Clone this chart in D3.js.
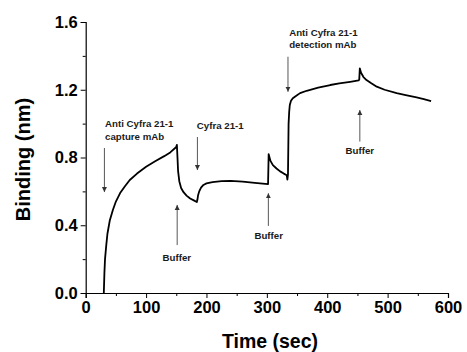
<!DOCTYPE html>
<html>
<head>
<meta charset="utf-8">
<script src="https://cdn.jsdelivr.net/npm/d3@7"></script>
<style>
  html, body { margin: 0; padding: 0; background: #fff; }
  svg { display: block; font-family: "Liberation Sans", Arial, sans-serif; }
</style>
</head>
<body>
<svg id="chart" width="467" height="352"></svg>
<script>
// ---- Data ----
const timeSec = [30, 31, 32, 34, 36, 40, 45, 50, 57, 65, 73, 85, 100, 115, 130, 140, 150, 151,
  152, 153, 155, 158, 162, 167, 173, 179, 184,
  185, 186, 188, 191, 195, 200, 210, 225, 240, 260, 280, 302,
  303, 306, 310, 316, 322, 328, 333, 334,
  335, 336, 337, 338, 340, 343, 347, 355, 366, 385, 405, 420, 438, 452, 453,
  454, 456, 460, 465, 473, 482, 495, 515, 530, 548, 560, 572];
const bindingNm = [0.00, 0.12, 0.20, 0.28, 0.35, 0.43, 0.49, 0.54, 0.59, 0.63, 0.667, 0.705, 0.745, 0.778, 0.808, 0.83, 0.862, 0.875,
  0.80, 0.72, 0.66, 0.62, 0.595, 0.575, 0.558, 0.547, 0.537,
  0.55, 0.575, 0.60, 0.622, 0.638, 0.647, 0.655, 0.66, 0.662, 0.657, 0.65, 0.643,
  0.82, 0.78, 0.755, 0.735, 0.718, 0.705, 0.695, 0.67,
  0.70, 1.00, 1.07, 1.11, 1.135, 1.15, 1.16, 1.18, 1.194, 1.212, 1.228, 1.237, 1.247, 1.255, 1.26,
  1.326, 1.30, 1.275, 1.257, 1.238, 1.218, 1.20, 1.18, 1.168, 1.155, 1.145, 1.133];

const xTicks = [0, 100, 200, 300, 400, 500, 600];
const xMinorTicks = [50, 150, 250, 350, 450, 550];
const yTicks = [0.0, 0.4, 0.8, 1.2, 1.6];
const yMinorTicks = [0.2, 0.6, 1.0, 1.4];
const xTitle = "Time (sec)";
const yTitle = "Binding (nm)";

// annotations: label lines, text position (time, binding), arrow x (time), arrow tail & head (binding)
const annoLabels = [["Anti Cyfra 21-1", "capture mAb"], ["Cyfra 21-1"], ["Buffer"], ["Buffer"],
  ["Anti Cyfra 21-1", "detection mAb"], ["Buffer"]];
const annoTextT = [32, 184, 151, 303, 337, 454];
const annoTextB = [0.998, 0.986, 0.207, 0.342, 1.539, 0.84];
const annoAnchor = ["start", "start", "middle", "middle", "start", "middle"];
const arrowT = [31, 185, 151.5, 302.5, 335, 454];
const arrowTail = [0.856, 0.921, 0.283, 0.396, 1.395, 0.894];
const arrowHead = [0.596, 0.726, 0.52, 0.589, 1.188, 1.08];

// ---- Chart ----
const svg = d3.select("#chart");
const x = d3.scaleLinear().domain([0, 600]).range([85.7, 448]);
const y = d3.scaleLinear().domain([0, 1.6]).range([293, 22]);

svg.append("defs").append("marker")
  .attr("id", "ah").attr("viewBox", "0 0 10 10")
  .attr("refX", 10).attr("refY", 5)
  .attr("markerWidth", 5).attr("markerHeight", 7).attr("markerUnits", "userSpaceOnUse")
  .attr("orient", "auto")
  .append("path").attr("d", "M0,0 L10,5 L0,10 Z").attr("fill", "#333");

// X axis
const gx = svg.append("g").attr("transform", `translate(0,${y(0)})`)
  .call(d3.axisBottom(x).tickValues(xTicks).tickFormat(d3.format("d")).tickSize(5).tickPadding(3));
svg.append("g").attr("transform", `translate(0,${y(0)})`)
  .call(d3.axisBottom(x).tickValues(xMinorTicks).tickFormat("").tickSize(3))
  .call(g => g.select(".domain").remove());
// Y axis
const gy = svg.append("g").attr("transform", `translate(${x(0)},0)`)
  .call(d3.axisLeft(y).tickValues(yTicks).tickFormat(d3.format(".1f")).tickSize(5).tickPadding(3));
svg.append("g").attr("transform", `translate(${x(0)},0)`)
  .call(d3.axisLeft(y).tickValues(yMinorTicks).tickFormat("").tickSize(3))
  .call(g => g.select(".domain").remove());

svg.selectAll(".domain").attr("stroke", "#000").attr("stroke-width", 1.2);
svg.selectAll(".tick line").attr("stroke", "#000").attr("stroke-width", 1);
svg.selectAll(".tick text").attr("font-family", "'Liberation Sans', Arial, sans-serif")
  .attr("font-size", 16.5).attr("font-weight", "bold").attr("fill", "#000");
// outer tick ends (domain path uses outer ticks of size 5) - keep as is

// axis titles
svg.append("text").attr("x", 270).attr("y", 348)
  .attr("text-anchor", "middle").attr("font-size", 19.5).attr("font-weight", "bold")
  .text(xTitle);
svg.append("text").attr("transform", `translate(30,${(y(0) + y(1.6)) / 2 + 2}) rotate(-90)`)
  .attr("text-anchor", "middle").attr("font-size", 20).attr("font-weight", "bold")
  .text(yTitle);

// curve
const line = d3.line().x((d, i) => x(timeSec[i])).y((d, i) => y(bindingNm[i]));
svg.append("path").datum(bindingNm)
  .attr("d", line).attr("fill", "none").attr("stroke", "#000")
  .attr("stroke-width", 1.8).attr("stroke-linejoin", "round");

// arrows
svg.append("g").selectAll("line").data(arrowT).join("line")
  .attr("x1", d => x(d)).attr("x2", d => x(d))
  .attr("y1", (d, i) => y(arrowTail[i])).attr("y2", (d, i) => y(arrowHead[i]))
  .attr("stroke", "#444").attr("stroke-width", 0.9).attr("marker-end", "url(#ah)");

// annotation labels
const ag = svg.append("g");
annoLabels.forEach((lines, i) => {
  const t = ag.append("text").attr("x", x(annoTextT[i])).attr("y", y(annoTextB[i]) + 3.5)
    .attr("text-anchor", annoAnchor[i]).attr("font-size", 9.7).attr("font-weight", "bold").attr("fill", "#1a1a1a");
  lines.forEach((s, j) => t.append("tspan").attr("x", x(annoTextT[i])).attr("dy", j === 0 ? 0 : 12.5).text(s));
});
</script>
</body>
</html>
